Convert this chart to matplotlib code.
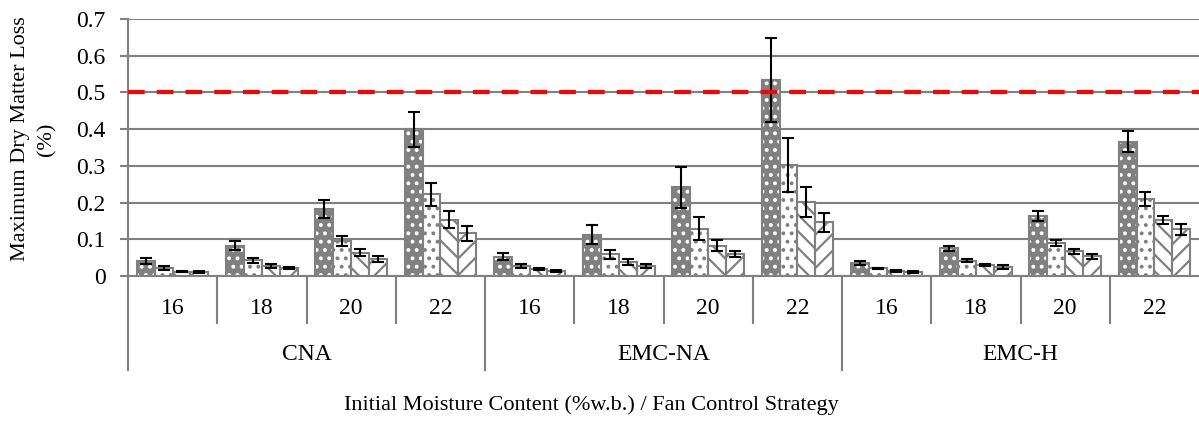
import matplotlib
matplotlib.use("Agg")
import matplotlib.pyplot as plt
import matplotlib.transforms as mtransforms
import numpy as np

plt.rcParams["font.family"] = ["Liberation Serif", "DejaVu Serif"]
plt.rcParams["hatch.linewidth"] = 1.6

strategies = ["CNA", "EMC-NA", "EMC-H"]
moisture = ["16", "18", "20", "22"]

# four bars per moisture level (one per pattern), CNA | EMC-NA | EMC-H
bar1 = [0.041, 0.083, 0.182, 0.400, 0.053, 0.113, 0.242, 0.534, 0.035, 0.076, 0.163, 0.366]
bar2 = [0.021, 0.043, 0.095, 0.222, 0.027, 0.059, 0.129, 0.302, 0.021, 0.041, 0.091, 0.210]
bar3 = [0.012, 0.028, 0.064, 0.153, 0.019, 0.038, 0.083, 0.201, 0.013, 0.030, 0.067, 0.153]
bar4 = [0.011, 0.021, 0.047, 0.116, 0.013, 0.028, 0.060, 0.146, 0.011, 0.025, 0.054, 0.127]

err1 = [0.008, 0.013, 0.024, 0.048, 0.010, 0.027, 0.056, 0.115, 0.005, 0.007, 0.013, 0.029]
err2 = [0.005, 0.007, 0.014, 0.031, 0.006, 0.013, 0.031, 0.074, 0.001, 0.004, 0.008, 0.020]
err3 = [0.002, 0.005, 0.010, 0.023, 0.004, 0.007, 0.015, 0.041, 0.002, 0.004, 0.007, 0.011]
err4 = [0.002, 0.003, 0.008, 0.020, 0.003, 0.005, 0.008, 0.025, 0.002, 0.006, 0.007, 0.015]

threshold = 0.5

fig = plt.figure(figsize=(11.99, 4.22), dpi=100)
ax = fig.add_axes([128 / 1199, 146 / 422, 1071 / 1199, 257 / 422])

gray = "#808080"
x = np.arange(len(bar1))
w = 0.2
series = [
    (bar1, err1, gray, "white", ".."),
    (bar2, err2, "white", gray, ".."),
    (bar3, err3, "white", gray, "\\\\"),
    (bar4, err4, "white", gray, "//"),
]
for k, (vals, errs, face, hcol, hatch) in enumerate(series):
    xs = x + (k - 1.5) * w
    ax.bar(xs, vals, w, color=face, edgecolor=hcol, hatch=hatch, linewidth=0, zorder=3)
    ax.bar(xs, vals, w, fill=False, edgecolor=gray, linewidth=1.5, zorder=4)
    ax.errorbar(xs, vals, yerr=errs, fmt="none", ecolor="black", elinewidth=1.5,
                capsize=4, capthick=1.5, zorder=5)

ax.axhline(threshold, color="red", linewidth=3, dashes=(4, 2.9), zorder=6)

ax.set_ylim(0, 0.7)
ax.set_xlim(-0.5, len(bar1) - 0.5)
ax.set_yticks(np.arange(0, 0.71, 0.1))
ax.set_yticklabels(["0", "0.1", "0.2", "0.3", "0.4", "0.5", "0.6", "0.7"])
ax.yaxis.grid(True, color=gray, linewidth=1.5, zorder=0)
ax.set_axisbelow(True)
ax.tick_params(axis="y", labelsize=17, length=6, width=1.5, color=gray, pad=10)
ax.set_xticks([])
for s in ["top", "right"]:
    ax.spines[s].set_visible(False)
for s in ["left", "bottom"]:
    ax.spines[s].set_color(gray)
    ax.spines[s].set_linewidth(1.5)

fig.text(34 / 1199, 0.6706, "Maximum Dry Matter Loss\n(%)", rotation=90,
         ha="center", va="center", fontsize=16, linespacing=1.5)

# multi-level category axis
tr = mtransforms.blended_transform_factory(ax.transData, ax.transAxes)
for i in range(len(bar1)):
    xb = i - 0.5
    low = -0.366 if i % 4 == 0 else -0.183
    ax.plot([xb, xb], [0, low], transform=tr, color=gray, linewidth=1.5, clip_on=False)
for i in range(len(bar1)):
    ax.text(i, -0.125, moisture[i % 4], transform=tr, ha="center", va="center", fontsize=17)
for g, name in enumerate(strategies):
    ax.text(g * 4 + 1.5, -0.307, name, transform=tr, ha="center", va="center", fontsize=17)

fig.text(591 / 1199, 17 / 422, "Initial Moisture Content (%w.b.) / Fan Control Strategy",
         ha="center", va="center", fontsize=16)

fig.savefig("out.png", dpi=100)
